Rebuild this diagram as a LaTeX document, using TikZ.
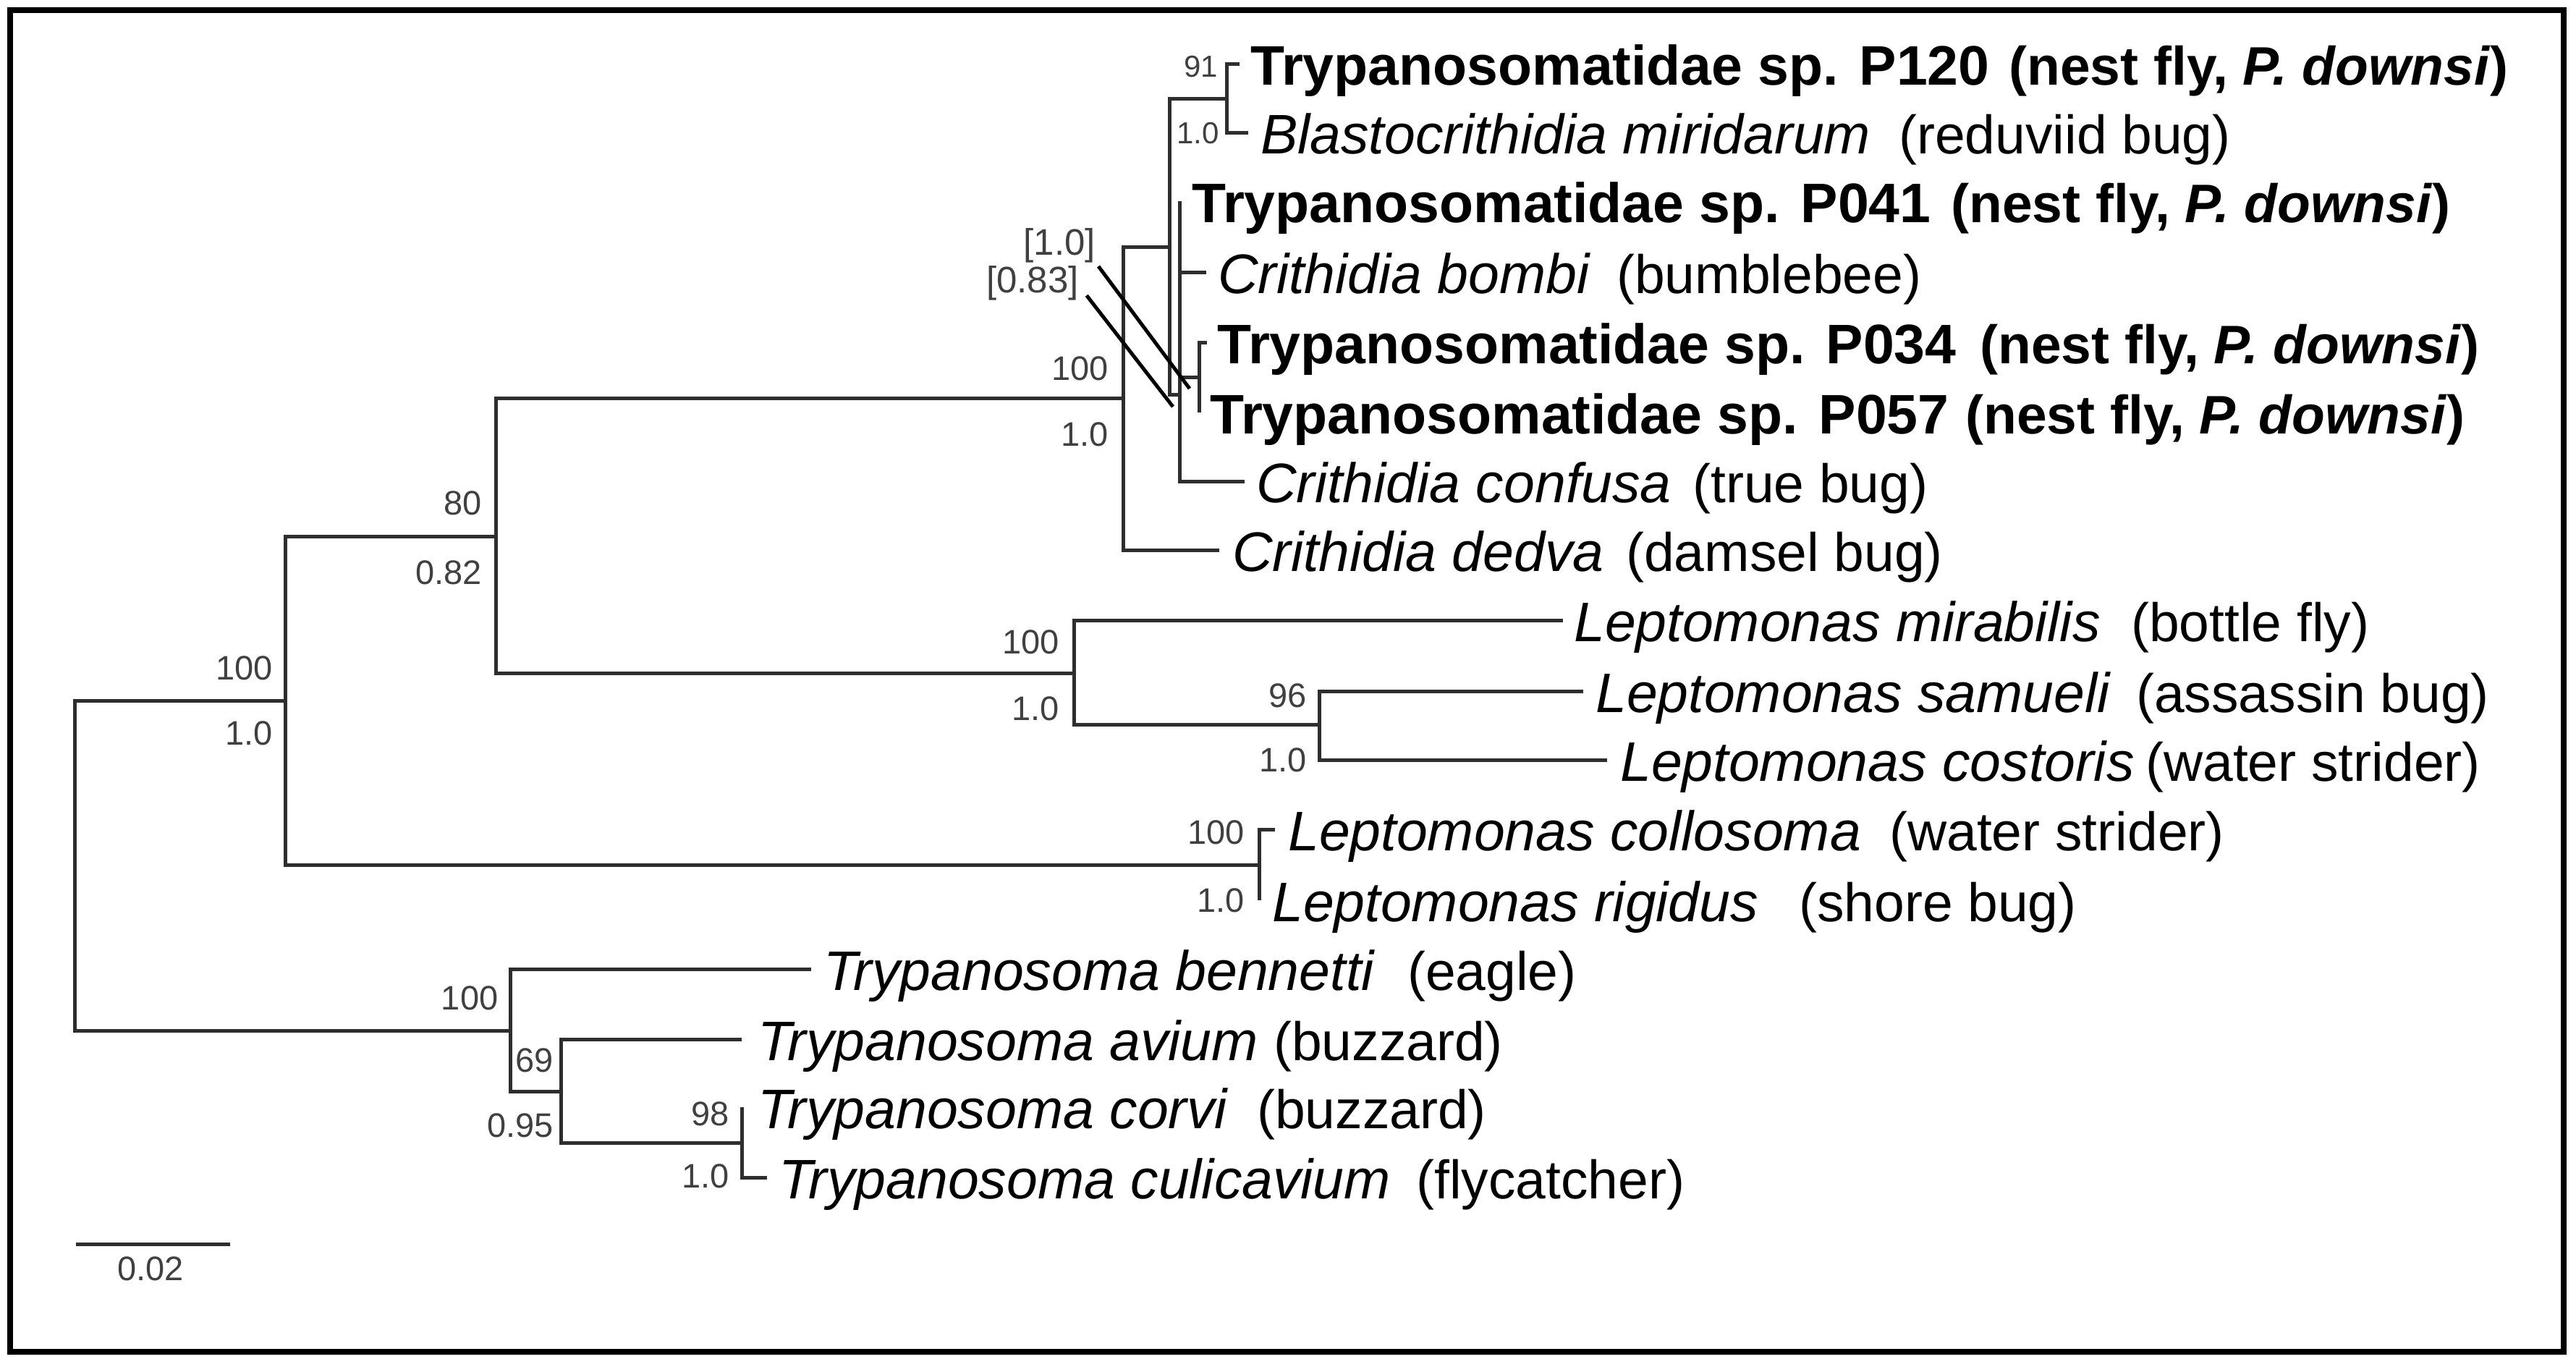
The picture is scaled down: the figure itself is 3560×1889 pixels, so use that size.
\documentclass[tikz,border=0pt]{standalone}
\usepackage{fontspec}
\setmainfont{Liberation Sans}
\tikzset{
  br/.style={line width=5pt, draw=black!82},
  ptr/.style={line width=5pt, draw=black},
  nametxt/.style={anchor=base west, inner sep=0pt, font=\fontsize{77}{90}\selectfont, text=black},
  hosttxt/.style={anchor=base west, inner sep=0pt, font=\fontsize{75}{90}\selectfont, text=black},
  suplab/.style={anchor=east, inner sep=0pt, font=\fontsize{47}{56}\selectfont, text=black!75},
  brlab/.style={anchor=east, inner sep=0pt, font=\fontsize{51}{60}\selectfont, text=black!75},
  smalllab/.style={anchor=east, inner sep=0pt, font=\fontsize{42}{50}\selectfont, text=black!75},
}
\newcommand\myleaf[6]{%
  \node[nametxt] (#1n) at (#2,#3) {#4};
  \node[hosttxt] (#1h) at (#5,#3) {#6};}
\begin{document}
\begin{tikzpicture}[x=1pt,y=-1pt]
\useasboundingbox (0,0) rectangle (3560,1889);
\draw[line width=8pt, black] (13.5,13.6) rectangle (3543,1868);

% internal nodes
\coordinate (R) at (103,1196);
\coordinate (A) at (394,968);
\coordinate (B) at (685.4,741);
\coordinate (C) at (1552,550.4);
\coordinate (D) at (1616,341.7);
\coordinate (P) at (1695,136.7);
\coordinate (E) at (1630.7,545);
\coordinate (Q) at (1657,521.7);
\coordinate (L) at (1484,930.8);
\coordinate (M) at (1823,1001);
\coordinate (K) at (1740.6,1195);
\coordinate (T) at (705.6,1424);
\coordinate (U) at (775,1508);
\coordinate (V) at (1025,1579.6);

% tips
\coordinate (t1) at (1713,88.3);
\coordinate (t2) at (1725,184);
\coordinate (t3) at (1630.7,278);
\coordinate (t4) at (1667,376.7);
\coordinate (t5) at (1668,473);
\coordinate (t6) at (1657,570);
\coordinate (t7) at (1720,665);
\coordinate (t8) at (1685,760);
\coordinate (t9) at (2160,857.7);
\coordinate (t10) at (2188,955);
\coordinate (t11) at (2220.5,1050.7);
\coordinate (t12) at (1762,1146.8);
\coordinate (t13) at (1740.6,1244);
\coordinate (t14) at (1121,1339);
\coordinate (t15) at (1025,1436);
\coordinate (t16) at (1025,1530);
\coordinate (t17) at (1060,1627);

% branches
\draw[br] (R) |- (A); \draw[br] (R) |- (T);
\draw[br] (A) |- (B); \draw[br] (A) |- (K);
\draw[br] (B) |- (C); \draw[br] (B) |- (L);
\draw[br] (C) |- (D); \draw[br] (C) |- (t8);
\draw[br] (D) |- (P); \draw[br] (D) |- (E);
\draw[br] (P) |- (t1); \draw[br] (P) |- (t2);
\draw[br] (E) |- (t3); \draw[br] (E) |- (t4); \draw[br] (E) |- (Q); \draw[br] (E) |- (t7);
\draw[br] (Q) |- (t5); \draw[br] (Q) |- (t6);
\draw[br] (L) |- (t9); \draw[br] (L) |- (M);
\draw[br] (M) |- (t10); \draw[br] (M) |- (t11);
\draw[br] (K) |- (t12); \draw[br] (K) |- (t13);
\draw[br] (T) |- (t14); \draw[br] (T) |- (U);
\draw[br] (U) |- (t15); \draw[br] (U) |- (V);
\draw[br] (V) |- (t16); \draw[br] (V) |- (t17);

% leaves
\myleaf{l1}{1728}{117.3}{\textbf{Trypanosomatidae sp. P120}}{2776}{\textbf{(nest fly, \textit{P. downsi})}}
\myleaf{l2}{1742}{213}{\textit{Blastocrithidia miridarum}}{2624}{(reduviid bug)}
\myleaf{l3}{1647}{307}{\textbf{Trypanosomatidae sp. P041}}{2696}{\textbf{(nest fly, \textit{P. downsi})}}
\myleaf{l4}{1683}{405.7}{\textit{Crithidia bombi}}{2234}{(bumblebee)}
\myleaf{l5}{1682}{502}{\textbf{Trypanosomatidae sp. P034}}{2736}{\textbf{(nest fly, \textit{P. downsi})}}
\myleaf{l6}{1672}{599}{\textbf{Trypanosomatidae sp. P057}}{2716}{\textbf{(nest fly, \textit{P. downsi})}}
\myleaf{l7}{1736}{694}{\textit{Crithidia confusa}}{2339}{(true bug)}
\myleaf{l8}{1703}{789}{\textit{Crithidia dedva}}{2247}{(damsel bug)}
\myleaf{l9}{2175}{886.7}{\textit{Leptomonas mirabilis}}{2945}{(bottle fly)}
\myleaf{l10}{2205}{984}{\textit{Leptomonas samueli}}{2952}{(assassin bug)}
\myleaf{l11}{2239}{1079.7}{\textit{Leptomonas costoris}}{2965}{(water strider)}
\myleaf{l12}{1780}{1175.8}{\textit{Leptomonas collosoma}}{2611}{(water strider)}
\myleaf{l13}{1758}{1273}{\textit{Leptomonas rigidus}}{2486}{(shore bug)}
\myleaf{l14}{1138}{1368}{\textit{Trypanosoma bennetti}}{1945}{(eagle)}
\myleaf{l15}{1047}{1465}{\textit{Trypanosoma avium}}{1760}{(buzzard)}
\myleaf{l16}{1047}{1559}{\textit{Trypanosoma corvi}}{1737}{(buzzard)}
\myleaf{l17}{1076}{1656}{\textit{Trypanosoma culicavium}}{1957}{(flycatcher)}

% support values
\node[suplab] (sA1) at (377,923) {100};
\node[suplab] (sA2) at (377,1013.6) {1.0};
\node[suplab] (sB1) at (666,695.5) {80};
\node[suplab] (sB2) at (666,791.7) {0.82};
\node[suplab] (sC1) at (1532,509) {100};
\node[suplab] (sC2) at (1532,600.5) {1.0};
\node[smalllab] (sP1) at (1683,92.5) {91};
\node[smalllab] (sP2) at (1685,184.5) {1.0};
\node[brlab] (sX1) at (1514,339) {[1.0]};
\node[brlab] (sX2) at (1491,391.5) {[0.83]};
\node[suplab] (sL1) at (1464,887) {100};
\node[suplab] (sL2) at (1464,979) {1.0};
\node[suplab] (sM1) at (1805.6,961) {96};
\node[suplab] (sM2) at (1805.6,1050.7) {1.0};
\node[suplab] (sK1) at (1720,1150) {100};
\node[suplab] (sK2) at (1720,1244) {1.0};
\node[suplab] (sT1) at (688.5,1379) {100};
\node[suplab] (sU1) at (765,1465.5) {69};
\node[suplab] (sU2) at (765,1555.5) {0.95};
\node[suplab] (sV1) at (1008,1539) {98};
\node[suplab] (sV2) at (1008,1625) {1.0};

% pointer lines
\coordinate (p1a) at (1518,368);
\coordinate (p1b) at (1644,537);
\coordinate (p2a) at (1501.7,408.3);
\coordinate (p2b) at (1621,562);
\draw[ptr] (p1a) -- (p1b);
\draw[ptr] (p2a) -- (p2b);

% scale bar
\coordinate (sb1) at (104.8,1719.6);
\coordinate (sb2) at (317.5,1719.6);
\draw[br] (sb1) -- (sb2);
\node[suplab, anchor=center] (sbl) at (208,1753) {0.02};
\end{tikzpicture}
\end{document}
